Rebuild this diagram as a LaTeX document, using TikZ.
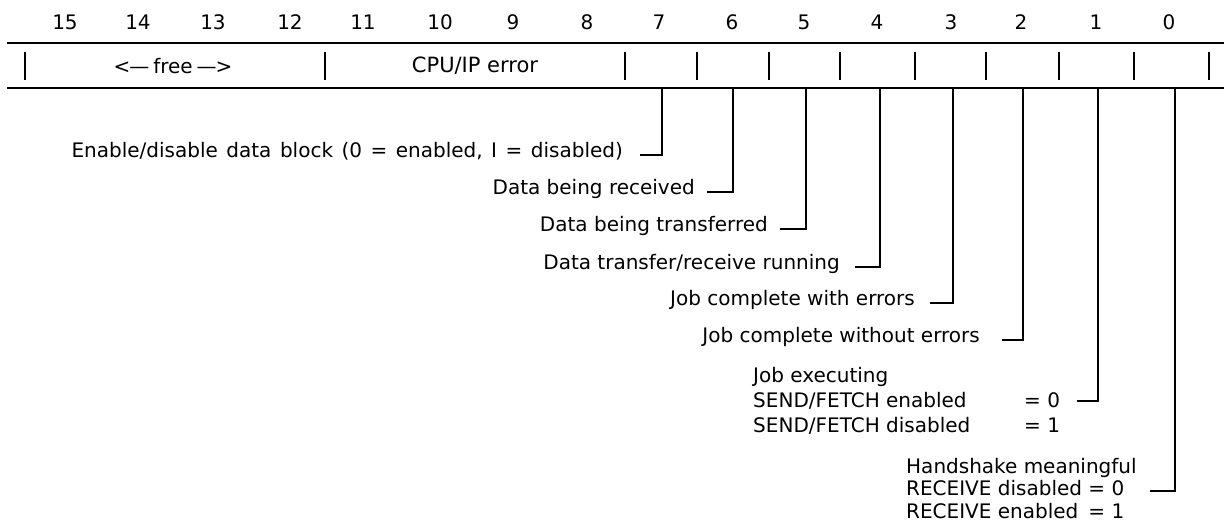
\documentclass[tikz,border=0pt]{standalone}
\usepackage{fontspec}
\setmainfont{DejaVu Sans}
\begin{document}
\begin{tikzpicture}[x=1pt,y=-1pt,
  txt/.style={inner sep=0pt, font=\fontsize{20}{25}\selectfont},
  bitnum/.style={txt},
  rule/.style={line width=2pt},
  tickmark/.style={line width=1.3pt},
  conn/.style={line width=1.1pt}]
\useasboundingbox (0,0) rectangle (1224,526);
% bit numbers
\foreach \b/\x in {15/65,14/138,13/213,12/290,11/363,10/440,9/513,8/587,7/659,6/732,5/804,4/877,3/951,2/1021,1/1096,0/1169}
  \node[bitnum] (b\b) at (\x,22) {\b};
% register bar
\coordinate (barTL) at (7,43);
\coordinate (barTR) at (1224,43);
\coordinate (barBL) at (7,88);
\coordinate (barBR) at (1224,88);
\draw[rule] (barTL) -- (barTR);
\draw[rule] (barBL) -- (barBR);
\foreach \x in {25,325,625,697,769,840,915,986,1059,1134,1209}
  \draw[tickmark] (\x,52) -- (\x,80);
\node[txt] (free) at (173,66) {<\kern-1pt—\kern4pt free\kern4pt—\kern-1pt>};
\node[txt,font=\fontsize{21}{25}\selectfont] (cpu) at (475,66) {CPU/IP error};
% connector start points on the bar
\foreach \b/\x in {7/662,6/733,5/806,4/880,3/953,2/1023,1/1098,0/1175}
  \coordinate (c\b) at (\x,88);
% labels
\node[txt,anchor=mid east] (l7) at (623,155) {\spaceskip=8.5pt Enable/disable data block (0 = enabled, I = disabled)};
\node[txt,anchor=mid east] (l6) at (695,192) {Data being received};
\node[txt,anchor=mid east] (l5) at (768,229) {Data being transferred};
\node[txt,anchor=mid east] (l4) at (840,267) {Data transfer/receive running};
\node[txt,anchor=mid east] (l3) at (915,303) {Job complete with errors};
\node[txt,anchor=mid east] (l2) at (980,340) {Job complete without errors};
\node[txt,anchor=base west] (l1) at (753,383) {\begin{tabular}[t]{@{}p{271pt}@{}l@{}}Job executing & \\ SEND/FETCH enabled & = 0\\ SEND/FETCH disabled & = 1\end{tabular}};
\node[txt,anchor=base west,font=\fontsize{20}{23}\selectfont] (l0) at (906,473) {\begin{tabular}[t]{@{}l@{ }c@{ }l@{}}\multicolumn{3}{@{}l@{}}{Handshake meaningful}\\ RECEIVE disabled & = & 0\\ RECEIVE enabled & = & 1\end{tabular}};
% hook ends
\coordinate (h7) at (640,155);
\coordinate (h6) at (707,192);
\coordinate (h5) at (780,229);
\coordinate (h4) at (855,267);
\coordinate (h3) at (930,303);
\coordinate (h2) at (1002,340);
\coordinate (h1) at (1077,401);
\coordinate (h0) at (1150,491);
\foreach \b in {7,6,5,4,3,2,1,0}
  \draw[conn] (c\b) |- (h\b);
\end{tikzpicture}
\end{document}
